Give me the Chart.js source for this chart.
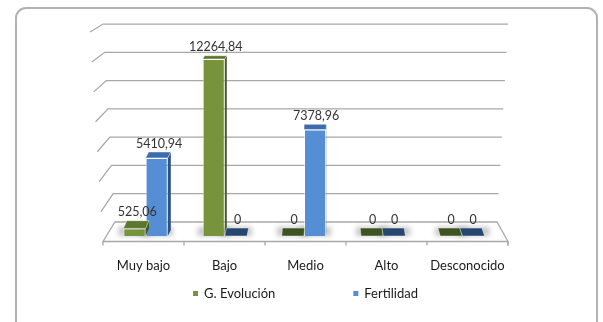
<!DOCTYPE html>
<html>
<head>
<meta charset="utf-8">
<script src="https://cdn.jsdelivr.net/npm/chart.js@4"></script>
<style>
  html, body { margin: 0; padding: 0; background: #ffffff; }
  #wrap { position: relative; width: 603px; height: 322px; overflow: hidden; }
  #frame {
    position: absolute; left: 15px; top: 7px; width: 583px; height: 330px;
    border: 2px solid #b2b2b2; border-radius: 11px; box-sizing: border-box;
  }
  #chart { position: absolute; left: 0; top: 0; }
</style>
</head>
<body>
<div id="wrap">
  <div id="frame"></div>
  <canvas id="chart" width="603" height="322"></canvas>
</div>
<script>
// Categories and series values
const categories = ['Muy bajo', 'Bajo', 'Medio', 'Alto', 'Desconocido'];
const seriesNames = ['G. Evolución', 'Fertilidad'];
const evolucion = [525.06, 12264.84, 0, 0, 0];
const fertilidad = [5410.94, 0, 7378.96, 0, 0];
const axisMax = 14000;
const axisStep = 2000;

// Face colours for the 3-D look: front, top, side, top of an empty (0) bar
const palette = [
  { front: '#77933C', top: '#5C7730', side: '#455B22', flat: '#3E5322' },
  { front: '#558ED5', top: '#3C6CAC', side: '#2C5288', flat: '#26466F' }
];

const fmt = v => v === 0 ? '0' : v.toFixed(2).replace('.', ',');
const FONT = '"Lato", "Open Sans", sans-serif';

// Perspective helpers
const frontToBack = (scaleY, yFront) => {
  const zero = scaleY.getPixelForValue(0);
  return (zero - 14) - (zero - yFront) * 0.98;
};
const topDepth = y => 3.3 + (y - 57) * 0.026;
const skew = xc => (325 - xc) * 0.018;
const frontAxisX = (area, x) => {
  const mid = (area.left + area.right) / 2;
  return mid + 1.5 + (x - mid) * 1.0227;
};

// Back wall, side-wall diagonals, floor and front axis
const wallPlugin = {
  id: 'wall',
  beforeDatasetsDraw(chart) {
    const { ctx, chartArea: area, scales: { y } } = chart;
    const backZero = frontToBack(y, y.getPixelForValue(0));
    const backTop = frontToBack(y, y.getPixelForValue(axisMax));
    const leftAt = by => frontAxisX(area, area.left) + (by - backTop) * 0.06;
    const rightAt = by => frontAxisX(area, area.right) - (by - backTop) * 0.055;
    const diagDx = by => 13 - (by - backTop) * 0.005;
    const diagDy = by => 8 + (by - backTop) * 0.058;

    ctx.save();
    ctx.strokeStyle = '#a8a8a8';
    ctx.lineWidth = 1.3;

    // floor
    const fy = backZero, fyf = backZero + diagDy(backZero);
    const flx = frontAxisX(area, area.left), frx = frontAxisX(area, area.right);
    ctx.beginPath();
    ctx.moveTo(leftAt(fy), fy);
    ctx.lineTo(rightAt(fy), fy);
    ctx.lineTo(frx, fyf);
    ctx.lineTo(flx, fyf);
    ctx.closePath();
    ctx.fillStyle = '#ffffff';
    ctx.fill();
    ctx.stroke();

    // floor edge thickness at the right corner
    ctx.beginPath();
    ctx.moveTo(frx, fyf);
    ctx.lineTo(frx, fyf + 4);
    ctx.stroke();

    // gridlines on the back wall with their diagonal on the side wall
    y.ticks.forEach(t => {
      if (t.value === 0) return;
      const by = frontToBack(y, y.getPixelForValue(t.value));
      const lx = leftAt(by);
      ctx.beginPath();
      ctx.moveTo(lx - diagDx(by), by + diagDy(by));
      ctx.lineTo(lx, by);
      ctx.lineTo(rightAt(by), by);
      ctx.stroke();
    });

    // tick marks on the front axis between categories
    for (let i = 0; i <= categories.length; i++) {
      const gx = frontAxisX(area, area.left + i * (area.right - area.left) / categories.length);
      ctx.beginPath();
      ctx.moveTo(gx, fyf);
      ctx.lineTo(gx, fyf + 4);
      ctx.stroke();
    }

    // soft shadows on the floor around every bar base
    ctx.filter = 'blur(2.5px)';
    ctx.fillStyle = 'rgba(0,0,0,0.22)';
    chart.data.datasets.forEach((ds, di) => {
      chart.getDatasetMeta(di).data.forEach(bar => {
        const p = bar.getProps(['x', 'base', 'width'], true);
        ctx.fillRect(p.x - p.width / 2 - 5, p.base - 9, p.width + 10, 9);
      });
    });
    ctx.restore();
  }
};

// Top and side faces, value labels, category labels and legend
const facesPlugin = {
  id: 'faces',
  afterDatasetsDraw(chart) {
    const { ctx, chartArea: area, scales: { x } } = chart;
    ctx.save();
    chart.data.datasets.forEach((ds, di) => {
      const col = palette[di];
      chart.getDatasetMeta(di).data.forEach((bar, i) => {
        const p = bar.getProps(['x', 'y', 'base', 'width'], true);
        const v = ds.data[i];
        const x0 = p.x - p.width / 2, x1 = p.x + p.width / 2;
        const d = topDepth(p.y);
        const dx = skew(p.x);
        ctx.lineWidth = 0.8;
        ctx.strokeStyle = 'rgba(255,255,255,0.55)';
        // side face
        if (v > 0 && dx > 0) {
          ctx.beginPath();
          ctx.moveTo(x1, p.y);
          ctx.lineTo(x1 + dx, p.y - d);
          ctx.lineTo(x1 + dx, p.base - d);
          ctx.lineTo(x1, p.base);
          ctx.closePath();
          ctx.fillStyle = col.side;
          ctx.fill();
        }
        // top face
        ctx.beginPath();
        ctx.moveTo(x0, p.y);
        ctx.lineTo(x1, p.y);
        ctx.lineTo(x1 + dx, p.y - d);
        ctx.lineTo(x0 + dx, p.y - d);
        ctx.closePath();
        ctx.fillStyle = v === 0 ? col.flat : col.top;
        ctx.fill();
        ctx.stroke();

        // value label
        ctx.fillStyle = '#333333';
        ctx.font = '12.5px ' + FONT;
        ctx.textAlign = 'center';
        ctx.textBaseline = 'middle';
        ctx.fillText(fmt(v), p.x + dx / 2 + 1, p.y - d - 8.5);
      });
    });

    // category labels along the front edge
    ctx.fillStyle = '#1a1a1a';
    ctx.font = '13px ' + FONT;
    ctx.textAlign = 'center';
    ctx.textBaseline = 'middle';
    categories.forEach((c, i) => {
      ctx.fillText(c, frontAxisX(area, x.getPixelForValue(i)), 266);
    });

    // legend
    const gap = 78, box = 5, boxGap = 6;
    const widths = seriesNames.map(n => ctx.measureText(n).width);
    const total = widths.reduce((a, w) => a + box + boxGap + w, 0) + gap;
    let lx = (area.left + area.right) / 2 + 1.5 - total / 2;
    const ly = 294;
    seriesNames.forEach((n, i) => {
      ctx.fillStyle = palette[i].front;
      ctx.fillRect(lx, ly - 3, box, box);
      ctx.fillStyle = '#1a1a1a';
      ctx.textAlign = 'left';
      ctx.fillText(n, lx + box + boxGap, ly);
      lx += box + boxGap + widths[i] + gap;
    });
    ctx.restore();
  }
};

new Chart(document.getElementById('chart'), {
  type: 'bar',
  data: {
    labels: categories,
    datasets: [
      { label: seriesNames[0], data: evolucion, backgroundColor: palette[0].front },
      { label: seriesNames[1], data: fertilidad, backgroundColor: palette[1].front }
    ]
  },
  options: {
    responsive: false,
    animation: false,
    devicePixelRatio: 1,
    layout: { padding: { left: 106, right: 101, top: 34, bottom: 86 } },
    datasets: {
      bar: {
        categoryPercentage: 0.56,
        barPercentage: 1,
        borderColor: 'rgba(255,255,255,0.55)',
        borderWidth: 1,
        borderSkipped: 'bottom'
      }
    },
    plugins: { legend: { display: false }, tooltip: { enabled: false } },
    scales: {
      x: { display: false },
      y: { display: false, min: 0, max: axisMax, ticks: { stepSize: axisStep } }
    }
  },
  plugins: [wallPlugin, facesPlugin]
});
</script>
</body>
</html>
